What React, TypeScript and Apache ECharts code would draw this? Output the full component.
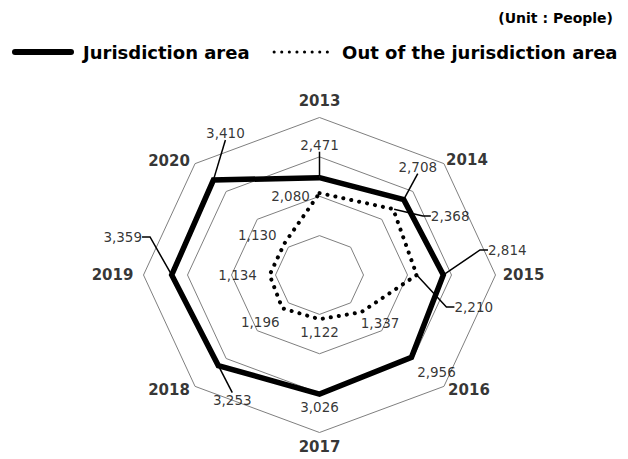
import React, { useEffect, useRef } from "react";
import * as echarts from "echarts";

const years = ["2013", "2014", "2015", "2016", "2017", "2018", "2019", "2020"];
const jurisdiction = [2471, 2708, 2814, 2956, 3026, 3253, 3359, 3410];
const outside = [2080, 2368, 2210, 1337, 1122, 1196, 1134, 1130];
const rings = [1000, 2000, 3000, 4000];
const axisMax = 4000;
const seriesNames = ["Jurisdiction area", "Out of the jurisdiction area"];
const unitText = "(Unit : People)";

// label placement (px offsets from each point) and leader lines
const jurOffsets = [[0, -33], [14, -33], [64, -25], [25, 15], [0, 13], [14, 34], [-49, -38], [12, -47]];
const jurLeader = [0, 0, 8, -1, -1, 0, 8, 0];
const outOffsets = [[-29, 3], [57, 7], [57, 32], [19, 11], [0, 13], [-22, 14], [-32, 0], [-27, -9]];
const outLeader = [-1, 8, 8, -1, -1, -1, -1, -1];
const catOffsets = [[0, -17], [23, -4], [28, 0], [25, 4], [0, 14], [-26, 4], [-31, 0], [-26, -3]];

const FONT = "'DejaVu Sans', sans-serif";

const angleOf = (i: number) => (i * 2 * Math.PI) / years.length;
const toXY = (v: number, i: number) => [v * Math.sin(angleOf(i)), v * Math.cos(angleOf(i))];
const closed = (vals: number[]) =>
  [...vals, vals[0]].map((v, i) => toXY(v, i % vals.length));
const fmt = (p: any) => Number(p.value[2]).toLocaleString("en-US");

export default function App() {
  const ref = useRef<HTMLDivElement>(null);
  useEffect(() => {
    const chart = echarts.init(ref.current!, null, { renderer: "svg" });
    const labelSeries = (vals: number[], offsets: number[][], leaders: number[]) => ({
      type: "scatter",
      data: vals.map((v, i) => ({
        value: [...toXY(v, i), v],
        labelLine: leaders[i] >= 0 ? { show: true, length2: leaders[i] } : { show: false },
      })),
      symbolSize: 2,
      itemStyle: { color: "rgba(0,0,0,0)" },
      silent: true,
      z: 6,
      label: {
        show: true,
        position: "inside",
        formatter: fmt,
        fontSize: 13.5,
        color: "#000",
        fontFamily: FONT,
      },
      labelLine: { lineStyle: { color: "#000", width: 1.5 } },
      labelLayout: (p: any) => ({ dx: offsets[p.dataIndex][0], dy: offsets[p.dataIndex][1] }),
    });

    chart.setOption({
      animation: false,
      title: {
        text: unitText,
        right: 10,
        top: 6,
        textStyle: { fontSize: 14, fontWeight: "bold", color: "#000", fontFamily: FONT },
      },
      legend: {
        data: [
          { name: seriesNames[0], lineStyle: { width: 6, cap: "round", color: "#000" } },
          { name: seriesNames[1], lineStyle: { width: 3, type: [0.1, 7.5], cap: "round", color: "#000" } },
        ],
        left: 7,
        top: 38,
        itemWidth: 56,
        itemHeight: 14,
        itemGap: 23,
        itemStyle: { opacity: 0 },
        textStyle: { fontSize: 18, fontWeight: "bold", color: "#000", fontFamily: FONT, padding: [0, 0, 0, 7] },
      },
      grid: { left: 143.5, top: 117.5, width: 352, height: 315 },
      xAxis: { type: "value", min: -axisMax, max: axisMax, show: false },
      yAxis: { type: "value", min: -axisMax, max: axisMax, show: false },
      series: [
        ...rings.map((r) => ({
          type: "line",
          name: "ring" + r,
          data: closed(years.map(() => r)),
          symbol: "none",
          silent: true,
          lineStyle: { color: "#7f7f7f", width: 1 },
          z: 1,
        })),
        {
          type: "line",
          name: seriesNames[0],
          data: closed(jurisdiction),
          symbol: "none",
          lineStyle: { color: "#000", width: 5.5, join: "miter" },
          itemStyle: { color: "#000" },
          z: 3,
        },
        {
          type: "line",
          name: seriesNames[1],
          data: closed(outside),
          symbol: "none",
          lineStyle: { color: "#000", width: 4, type: [0.1, 8], cap: "round" },
          itemStyle: { color: "#000" },
          z: 3,
        },
        labelSeries(jurisdiction, jurOffsets, jurLeader),
        labelSeries(outside, outOffsets, outLeader),
        {
          type: "scatter",
          data: years.map((y, i) => ({ value: [...toXY(axisMax, i), 0], name: y })),
          symbolSize: 2,
          itemStyle: { color: "rgba(0,0,0,0)" },
          silent: true,
          z: 6,
          label: {
            show: true,
            position: "inside",
            formatter: (p: any) => p.name,
            fontSize: 15,
            fontWeight: "bold",
            color: "#000",
            fontFamily: FONT,
          },
          labelLayout: (p: any) => ({ dx: catOffsets[p.dataIndex][0], dy: catOffsets[p.dataIndex][1] }),
        },
      ],
    });
    return () => chart.dispose();
  }, []);
  return (
    <div
      ref={ref}
      style={{ position: "fixed", left: 0, top: 0, width: 628, height: 459, background: "#fff" }}
    />
  );
}
